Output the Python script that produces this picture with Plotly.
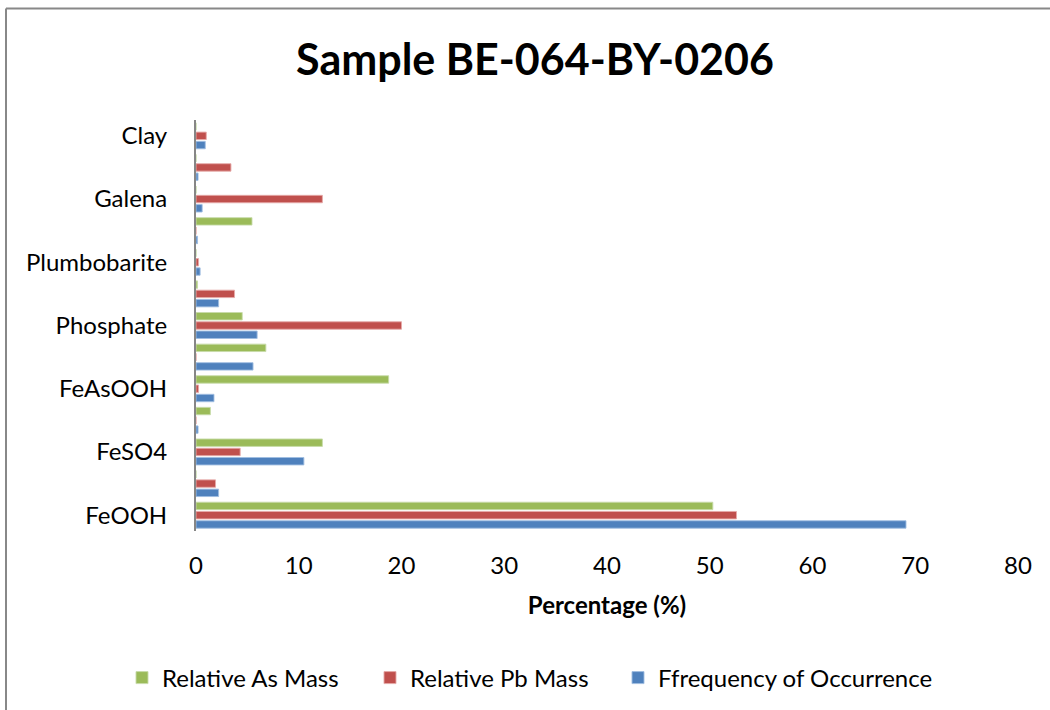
import plotly.graph_objects as go

# Mineral phases, bottom to top; every other band carries no label
category_labels = ["FeOOH", "", "FeSO4", "", "FeAsOOH", "", "Phosphate", "",
                   "Plumbobarite", "", "Galena", "", "Clay"]
positions = list(range(len(category_labels)))

# Percent values for each band (same order as category_labels)
relative_as_mass = [50.3, 0.0, 12.3, 1.4, 18.75, 6.8, 4.5, 0.15, 0.0, 5.45, 0.0, 0.0, 0.0]
relative_pb_mass = [52.6, 1.9, 4.3, 0.0, 0.25, 0.0, 20.0, 3.75, 0.25, 0.0, 12.3, 3.4, 1.0]
frequency_of_occurrence = [69.1, 2.2, 10.5, 0.2, 1.75, 5.55, 5.95, 2.2, 0.4, 0.15, 0.6, 0.2, 0.9]

x_ticks = [0, 10, 20, 30, 40, 50, 60, 70, 80]

FONT = "Lato"
BLUE, RED, GREEN = "#4F81BD", "#C0504D", "#9BBB59"

W, H = 1050, 710
L, R, T, B = 196, 32, 120, 179
pw, ph = W - L - R, H - T - B

fig = go.Figure()
# Drawn bottom-up inside each band: frequency, Pb, As; each series has its own legend box
series = [
    ("Ffrequency of Occurrence", frequency_of_occurrence, BLUE, "rgba(160,190,225,0.9)", "legend3", 618),
    ("Relative Pb Mass", relative_pb_mass, RED, "rgba(230,170,168,0.9)", "legend2", 370),
    ("Relative As Mass", relative_as_mass, GREEN, "rgba(200,220,170,0.9)", "legend", 122),
]
legend_boxes = {}
for name, vals, col, edge, leg, lx in series:
    fig.add_trace(go.Bar(
        y=positions, x=vals, name=name, orientation="h", legend=leg,
        marker=dict(color=col, line=dict(color=edge, width=1)),
    ))
    legend_boxes[leg] = dict(
        orientation="h", x=lx / W, xref="container", xanchor="left",
        y=1 - 678 / H, yref="container", yanchor="middle",
        itemwidth=30, bgcolor="rgba(0,0,0,0)",
        font=dict(family=FONT, size=24, color="black"),
    )

fig.update_layout(
    width=W, height=H, autosize=False,
    margin=dict(l=L, r=R, t=T, b=B),
    paper_bgcolor="white", plot_bgcolor="white",
    barmode="group", bargap=0.12, bargroupgap=0.2,
    font=dict(family=FONT, size=24, color="black"),
    title=dict(text="<b>Sample BE-064-BY-0206</b>", x=535 / W, xanchor="center",
               y=1 - 60 / H, yanchor="middle",
               font=dict(family=FONT, size=43, color="black")),
    xaxis=dict(range=[0, 80], tickvals=x_ticks, showgrid=False, zeroline=False,
               showline=False, ticks="", ticklabelstandoff=18,
               tickfont=dict(family=FONT, size=24),
               title=dict(text="<b>Percentage (%)</b>", standoff=19,
                          font=dict(family=FONT, size=24))),
    yaxis=dict(range=[-0.5, len(category_labels) - 0.5], tickvals=positions,
               ticktext=category_labels, showgrid=False, zeroline=False,
               showline=True, linecolor="#868686", linewidth=2, ticks="",
               ticklabelstandoff=22, tickfont=dict(family=FONT, size=24)),
    showlegend=True,
    **legend_boxes,
)

# Chart-area frame (left and top edges)
fig.add_shape(type="line", xref="paper", yref="paper",
              x0=(6 - L) / pw, x1=(W + 10 - L) / pw,
              y0=(H - B - 8.5) / ph, y1=(H - B - 8.5) / ph,
              line=dict(color="#888888", width=2))
fig.add_shape(type="line", xref="paper", yref="paper",
              x0=(6 - L) / pw, x1=(6 - L) / pw,
              y0=(H - B - 8.5) / ph, y1=-(B + 10) / ph,
              line=dict(color="#888888", width=2))

fig.write_html("out.html")
